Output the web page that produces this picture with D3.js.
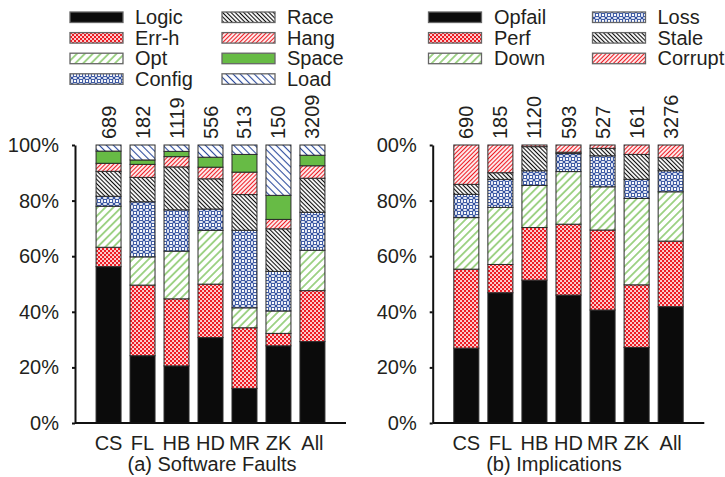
<!DOCTYPE html>
<html><head><meta charset="utf-8">
<script src="https://cdn.jsdelivr.net/npm/d3@7"></script>
<style>
body{margin:0;background:#fff}
svg text{font-family:"Liberation Sans",Arial,Helvetica,sans-serif;fill:#231f20}
</style>
</head><body>
<svg id="chart" width="725" height="477"></svg>
<script>
// ---------------- data ----------------
const categories = ["CS","FL","HB","HD","MR","ZK","All"];
const yTickValues = [0, 0.2, 0.4, 0.6, 0.8, 1];
const yTickLabels = ["0%","20%","40%","60%","80%","100%"];

// (a) Software Faults
const faultCounts = [689, 182, 1119, 556, 513, 150, 3209];
const faultKeys = ["Logic","Err-h","Opt","Config","Race","Hang","Space","Load"];
const faultLogic  = [56.4, 24.3, 20.6, 30.8, 12.5, 27.9, 29.4];
const faultErrH   = [ 7.0, 25.5, 24.2, 19.3, 21.9,  4.5, 18.4];
const faultOpt    = [14.8, 10.2, 17.2, 19.4,  7.2,  8.1, 14.6];
const faultConfig = [ 3.6, 19.9, 14.9,  7.7, 28.0, 14.3, 13.7];
const faultRace   = [ 9.0,  8.8, 15.5, 10.9, 12.9, 15.4, 12.3];
const faultHang   = [ 2.9,  4.7,  3.7,  4.2,  8.1,  3.4,  4.5];
const faultSpace  = [ 4.4,  1.6,  1.9,  3.6,  6.4,  8.7,  3.8];
const faultLoad   = [ 2.2,  5.4,  2.3,  4.4,  3.4, 18.2,  3.7];

// (b) Implications
const implCounts = [690, 185, 1120, 593, 527, 161, 3276];
const implKeys = ["Opfail","Perf","Down","Loss","Stale","Corrupt"];
const implOpfail  = [27.0, 47.0, 51.6, 46.2, 40.8, 27.3, 42.0];
const implPerf    = [28.5, 10.2, 19.0, 25.6, 28.9, 22.6, 23.7];
const implDown    = [18.6, 20.6, 15.2, 19.0, 15.6, 31.2, 17.8];
const implLoss    = [ 8.4, 10.1,  5.3,  6.5, 11.2,  6.9,  7.6];
const implStale   = [ 3.6,  2.4,  8.7,  0.5,  2.7,  9.0,  4.7];
const implCorrupt = [14.2, 10.0,  0.6,  2.6,  1.2,  3.4,  4.6];

// ---------------- styles ----------------
const RED = "#ee1c24", GREEN = "#58b22e", GREENF = "#67bb45", BLUE = "#2a4a9c", BLACK = "#0b0b0b";

const svg = d3.select("#chart");
svg.append("rect").attr("width",725).attr("height",477).attr("fill","#fff");
const defs = svg.append("defs");

function hatch(id, color, spacing, angle, width) {
  const p = defs.append("pattern").attr("id", id).attr("patternUnits","userSpaceOnUse")
    .attr("width", spacing).attr("height", spacing)
    .attr("patternTransform", `rotate(${angle})`);
  p.append("rect").attr("width", spacing).attr("height", spacing).attr("fill","#fff");
  p.append("line").attr("x1", spacing/2).attr("y1", -1).attr("x2", spacing/2).attr("y2", spacing+1)
    .attr("stroke", color).attr("stroke-width", width);
}
function checker(id, color) {
  const p = defs.append("pattern").attr("id", id).attr("patternUnits","userSpaceOnUse")
    .attr("width", 4).attr("height", 4);
  p.append("rect").attr("width",4).attr("height",4).attr("fill",color);
  p.append("rect").attr("x",0.15).attr("y",0.15).attr("width",1.75).attr("height",1.75).attr("fill","#fff");
  p.append("rect").attr("x",2.15).attr("y",2.15).attr("width",1.75).attr("height",1.75).attr("fill","#fff");
}
function lattice(id, color) {
  const s = 6;
  const p = defs.append("pattern").attr("id", id).attr("patternUnits","userSpaceOnUse")
    .attr("width", s).attr("height", s);
  p.append("rect").attr("width",s).attr("height",s).attr("fill","#fff");
  p.append("path").attr("d","M0,0L6,6M6,0L0,6")
    .attr("stroke",color).attr("stroke-width",1.2);
  p.append("circle").attr("cx",3).attr("cy",3).attr("r",1.8).attr("fill","#fff")
    .attr("stroke",color).attr("stroke-width",1);
}
hatch("pOpt", GREEN, 5.6, 45, 1.1);
hatch("pHang", RED, 3, 45, 1.2);
hatch("pRace", BLACK, 3, -45, 1.1);
hatch("pLoad", BLUE, 5, -45, 1.1);
checker("pChk", RED);
lattice("pLat", BLUE);

const fillOf = {
  "Logic": BLACK, "Err-h": "url(#pChk)", "Opt": "url(#pOpt)", "Config": "url(#pLat)",
  "Race": "url(#pRace)", "Hang": "url(#pHang)", "Space": GREENF, "Load": "url(#pLoad)",
  "Opfail": BLACK, "Perf": "url(#pChk)", "Down": "url(#pOpt)", "Loss": "url(#pLat)",
  "Stale": "url(#pRace)", "Corrupt": "url(#pHang)"
};

// ---------------- panel ----------------
function rows(keys, arrays) {
  return categories.map((c, i) => {
    const r = {cat: c};
    keys.forEach((k, j) => r[k] = arrays[j][i]);
    return r;
  });
}

function panel(cfg) {
  const g = svg.append("g");
  if (cfg.clipX !== undefined) {
    defs.append("clipPath").attr("id","clip"+cfg.id).append("rect")
      .attr("x", cfg.clipX).attr("y",0).attr("width",725-cfg.clipX).attr("height",477);
    g.attr("clip-path", `url(#clip${cfg.id})`);
  }
  const yTop = 145, yBot = 423;
  const x = d3.scaleBand().domain(categories).range([cfg.x0, cfg.x1])
    .paddingInner(0.265).paddingOuter(0.62);
  const y = d3.scaleLinear().domain([0,1]).range([yBot, yTop]);
  const stack = d3.stack().keys(cfg.keys).offset(d3.stackOffsetExpand);
  const series = stack(rows(cfg.keys, cfg.arrays));

  const layers = g.selectAll("g.layer").data(series).join("g").attr("class","layer")
    .attr("fill", d => fillOf[d.key]);
  layers.selectAll("rect").data(d => d.map((v, i) => ({v, i}))).join("rect")
    .attr("x", d => x(categories[d.i]))
    .attr("width", x.bandwidth())
    .attr("y", d => y(d.v[1]))
    .attr("height", d => y(d.v[0]) - y(d.v[1]))
    .attr("stroke", "#2a2a2a").attr("stroke-width", 1);

  // y axis
  const ya = g.append("g").attr("transform", `translate(${cfg.x0},0)`)
    .call(d3.axisLeft(y).tickValues(yTickValues).tickFormat((d,i) => yTickLabels[i])
      .tickSize(3).tickSizeOuter(0).tickPadding(13));
  ya.attr("font-size", 20).attr("font-family", null);
  ya.selectAll("path,line").attr("stroke", "#111").attr("stroke-width", 2);
  ya.selectAll("text").attr("fill", "#231f20");

  // x baseline
  g.append("line").attr("x1", cfg.x0).attr("x2", cfg.x1).attr("y1", yBot).attr("y2", yBot)
    .attr("stroke", "#111").attr("stroke-width", 2);

  // category labels
  g.selectAll("text.cat").data(categories).join("text").attr("class","cat")
    .attr("x", d => x(d) + x.bandwidth()/2).attr("y", 450)
    .attr("text-anchor","middle").attr("font-size",20).text(d => d);

  // counts
  g.selectAll("text.cnt").data(cfg.counts).join("text").attr("class","cnt")
    .attr("transform", (d,i) => `translate(${x(categories[i]) + x.bandwidth()/2 + 7},139) rotate(-90)`)
    .attr("font-size",20).text(d => d);

  // title
  g.append("text").attr("x", cfg.titleX).attr("y", 471).attr("text-anchor","middle")
    .attr("font-size",20).text(cfg.title);

  // legend
  const lg = g.append("g");
  cfg.keys.forEach((k, i) => {
    const col = Math.floor(i / cfg.perCol), row = i % cfg.perCol;
    const sx = cfg.legSwX[col], tx = cfg.legTxX[col];
    const top = 12 + row * 20.6;
    lg.append("rect").attr("x", sx).attr("y", top).attr("width", 53).attr("height", 10.5)
      .attr("fill", fillOf[k]).attr("stroke", "#666").attr("stroke-width", 1.3);
    lg.append("text").attr("x", tx).attr("y", top + 12).attr("font-size", 20).text(k);
  });
}

panel({
  id: "a", x0: 75, x1: 346, keys: faultKeys,
  arrays: [faultLogic, faultErrH, faultOpt, faultConfig, faultRace, faultHang, faultSpace, faultLoad],
  counts: faultCounts, title: "(a) Software Faults", titleX: 212,
  perCol: 4, legSwX: [70, 222], legTxX: [135, 287]
});
panel({
  id: "b", x0: 432.7, x1: 704.3, keys: implKeys, clipX: 376,
  arrays: [implOpfail, implPerf, implDown, implLoss, implStale, implCorrupt],
  counts: implCounts, title: "(b) Implications", titleX: 554,
  perCol: 3, legSwX: [428.5, 592.5], legTxX: [494, 657.5]
});
</script>
</body></html>
